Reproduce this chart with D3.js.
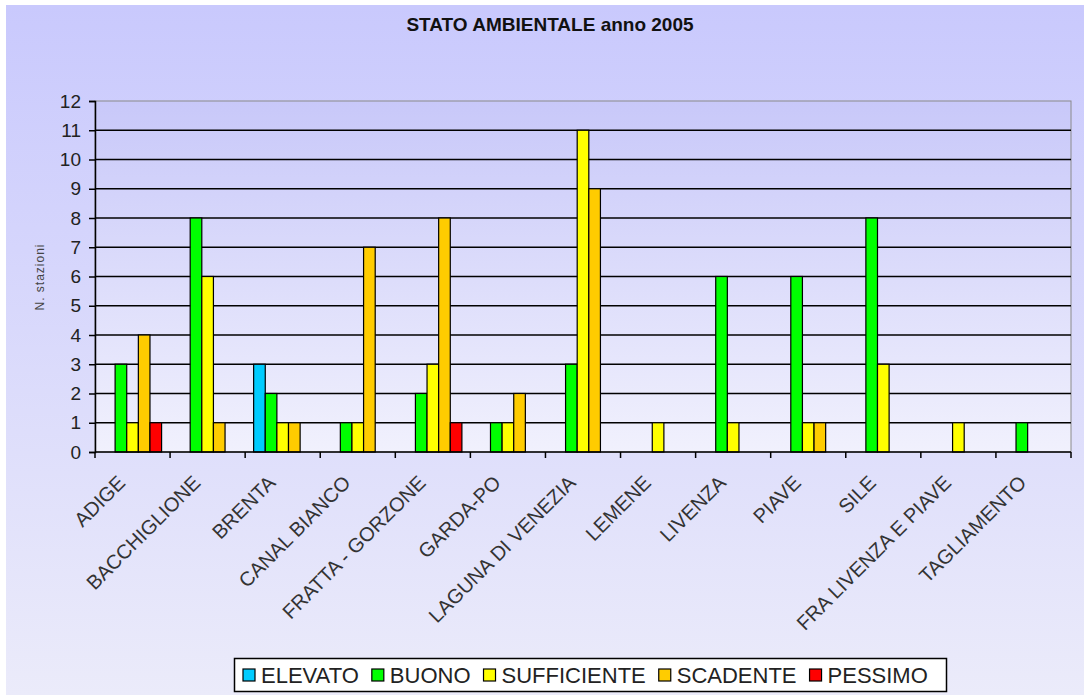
<!DOCTYPE html>
<html>
<head>
<meta charset="utf-8">
<script src="https://d3js.org/d3.v7.min.js"></script>
<style>
  body { margin: 0; background: #fff; }
  svg { display: block; font-family: "Liberation Sans", Arial, sans-serif; }
</style>
</head>
<body>
<svg id="chart" width="1084" height="695"></svg>
<script>
// data
const categories = ["ADIGE", "BACCHIGLIONE", "BRENTA", "CANAL BIANCO", "FRATTA - GORZONE", "GARDA-PO",
  "LAGUNA DI VENEZIA", "LEMENE", "LIVENZA", "PIAVE", "SILE", "FRA LIVENZA E PIAVE", "TAGLIAMENTO"];
const seriesNames = ["ELEVATO", "BUONO", "SUFFICIENTE", "SCADENTE", "PESSIMO"];
const elevato     = [0, 0, 3, 0, 0, 0, 0, 0, 0, 0, 0, 0, 0];
const buono       = [3, 8, 2, 1, 2, 1, 3, 0, 6, 6, 8, 0, 1];
const sufficiente = [1, 6, 1, 1, 3, 1, 11, 1, 1, 1, 3, 1, 0];
const scadente    = [4, 1, 1, 7, 8, 2, 9, 0, 0, 1, 0, 0, 0];
const pessimo     = [1, 0, 0, 0, 1, 0, 0, 0, 0, 0, 0, 0, 0];
const yTicks = [0, 1, 2, 3, 4, 5, 6, 7, 8, 9, 10, 11, 12];
const colors = ["#00ccff", "#00ff00", "#ffff00", "#ffcc00", "#ff0000"];

const seriesValues = [elevato, buono, sufficiente, scadente, pessimo];
const svg = d3.select("#chart");
const W = 1084, H = 695;
const plot = { left: 95, right: 1071, top: 101, bottom: 452 };

// gradients
const defs = svg.append("defs");
const gOuter = defs.append("linearGradient").attr("id", "outerGrad").attr("x1", 0).attr("y1", 0).attr("x2", 0).attr("y2", 1);
gOuter.append("stop").attr("offset", "0%").attr("stop-color", "#c9c9fd");
gOuter.append("stop").attr("offset", "100%").attr("stop-color", "#ebebfa");
const gPlot = defs.append("linearGradient").attr("id", "plotGrad").attr("x1", 0).attr("y1", 0).attr("x2", 0).attr("y2", 1);
gPlot.append("stop").attr("offset", "0%").attr("stop-color", "#c8c8f9");
gPlot.append("stop").attr("offset", "100%").attr("stop-color", "#f1f1fd");

svg.append("rect").attr("x", 6).attr("y", 5).attr("width", W - 6).attr("height", H - 5)
  .attr("fill", "url(#outerGrad)");

svg.append("rect")
  .attr("x", plot.left).attr("y", plot.top)
  .attr("width", plot.right - plot.left).attr("height", plot.bottom - plot.top)
  .attr("fill", "url(#plotGrad)")
  .attr("stroke", "#8a8a8a").attr("stroke-width", 1);

// scales
const x0 = d3.scaleBand().domain(categories).range([plot.left, plot.right]).padding(0);
const x1 = d3.scaleBand().domain(seriesNames).range([0, x0.bandwidth()])
  .paddingInner(0).paddingOuter(0.73);
const y = d3.scaleLinear().domain([0, 12]).range([plot.bottom, plot.top]);

// gridlines
svg.append("g")
  .selectAll("line")
  .data(yTicks.filter(d => d > 0 && d < 12))
  .join("line")
  .attr("x1", plot.left).attr("x2", plot.right)
  .attr("y1", d => y(d)).attr("y2", d => y(d))
  .attr("stroke", "#000").attr("stroke-width", 1.5);

// bars
const rows = [];
categories.forEach((c, i) => {
  seriesNames.forEach((s, j) => {
    if (seriesValues[j][i] > 0) rows.push({ cat: c, ser: s, value: seriesValues[j][i], color: colors[j] });
  });
});
svg.append("g")
  .selectAll("rect")
  .data(rows)
  .join("rect")
  .attr("x", d => x0(d.cat) + x1(d.ser))
  .attr("y", d => y(d.value))
  .attr("width", x1.bandwidth())
  .attr("height", d => y(0) - y(d.value))
  .attr("fill", d => d.color)
  .attr("stroke", "#000").attr("stroke-width", 1.2);

// y axis
const yAxis = svg.append("g")
  .attr("transform", `translate(${plot.left},0)`)
  .call(d3.axisLeft(y).tickValues(yTicks).tickSize(6).tickPadding(8));
yAxis.select(".domain").attr("stroke", "#000").attr("stroke-width", 1.5);
yAxis.selectAll(".tick line").attr("stroke", "#000").attr("stroke-width", 1.5);
yAxis.selectAll(".tick text").attr("font-size", 19).attr("fill", "#222")
  .attr("font-family", "Liberation Sans, Arial, sans-serif");

// x axis: ticks at category boundaries
const xAxis = svg.append("g").attr("transform", `translate(0,${plot.bottom})`);
xAxis.append("line").attr("x1", plot.left).attr("x2", plot.right)
  .attr("stroke", "#000").attr("stroke-width", 1.5);
xAxis.selectAll("line.tk")
  .data(categories.concat(["end"]))
  .join("line").attr("class", "tk")
  .attr("x1", (d, i) => i < categories.length ? x0(d) : plot.right)
  .attr("x2", (d, i) => i < categories.length ? x0(d) : plot.right)
  .attr("y1", 0).attr("y2", 6)
  .attr("stroke", "#000").attr("stroke-width", 1.5);
xAxis.selectAll("text")
  .data(categories)
  .join("text")
  .attr("transform", d => `translate(${x0(d) + x0.bandwidth() / 2 - 6},32) rotate(-45)`)
  .attr("text-anchor", "end")
  .attr("font-size", 20)
  .attr("fill", "#333")
  .text(d => d);

// y axis title
svg.append("text")
  .attr("transform", "translate(44,277) rotate(-90)")
  .attr("text-anchor", "middle")
  .attr("font-size", 12)
  .attr("letter-spacing", 1)
  .attr("fill", "#444")
  .text("N. stazioni");

// title
svg.append("text")
  .attr("x", 550).attr("y", 31)
  .attr("text-anchor", "middle")
  .attr("font-size", 19).attr("font-weight", "bold")
  .attr("fill", "#111")
  .text("STATO AMBIENTALE anno 2005");

// legend
const legend = svg.append("g");
legend.append("rect")
  .attr("x", 234.5).attr("y", 658.5).attr("width", 712).attr("height", 33)
  .attr("fill", "#fff").attr("stroke", "#000").attr("stroke-width", 1.5);
let lx = 243;
seriesNames.forEach((s, j) => {
  legend.append("rect")
    .attr("x", lx).attr("y", 669).attr("width", 12).attr("height", 12)
    .attr("fill", colors[j]).attr("stroke", "#000").attr("stroke-width", 1.2);
  const t = legend.append("text")
    .attr("x", lx + 18).attr("y", 683)
    .attr("font-size", 22).attr("fill", "#222")
    .text(s);
  lx += 18 + t.node().getComputedTextLength() + 13;
});
</script>
</body>
</html>
